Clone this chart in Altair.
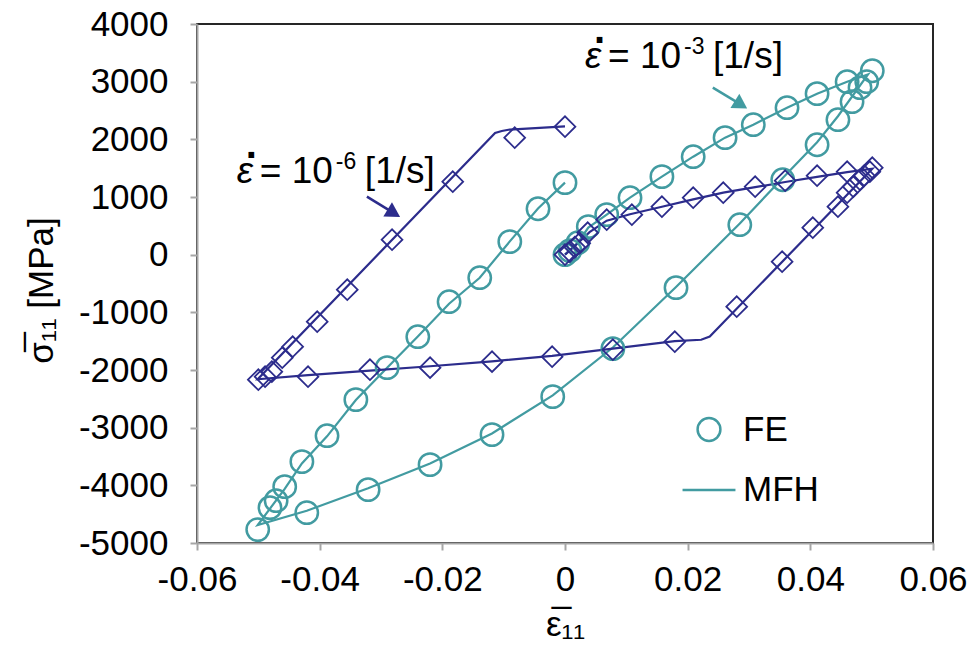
import altair as alt
import pandas as pd

TEAL = "#429BA1"
BLUE = "#2C2C8C"

# ---- strain rate 10^-3 [1/s] : FE (circles) ----
fe3_strain = [0, 0.0008, 0.0021, 0.0038, 0.0068, 0.0106, 0.0158, 0.0209, 0.0261, 0.0307, 0.0362, 0.0411, 0.046, 0.0501,
              0.0492, 0.0481, 0.0468, 0.0445, 0.0411, 0.0355, 0.0285, 0.0181, 0.0078, -0.002, -0.0119, -0.022, -0.0321, -0.0421, -0.0501,
              -0.0481, -0.0471, -0.0457, -0.0429, -0.0388, -0.0341, -0.029, -0.024, -0.0189, -0.0139, -0.009, -0.0044, 0]
fe3_stress = [0, 70, 208, 486, 694, 988, 1353, 1699, 2029, 2254, 2549, 2792, 3000, 3190,
              3000, 2896, 2653, 2341, 1907, 1300, 520, -572, -1630, -2462, -3121, -3641, -4075, -4474, -4768,
              -4387, -4266, -4023, -3589, -3139, -2514, -1959, -1422, -815, -399, 226, 797, 1249]

# ---- strain rate 10^-3 [1/s] : MFH (line) ----
mfh3_strain = [0, 0.0021, 0.0038, 0.0068, 0.0106, 0.0158, 0.0209, 0.0261, 0.0307, 0.0362, 0.0411, 0.046, 0.0494,
               0.0445, 0.0411, 0.0355, 0.0285, 0.0181, 0.0078, -0.002, -0.0119, -0.022, -0.0321, -0.0421, -0.0501,
               -0.0457, -0.0429, -0.0388, -0.0341, -0.029, -0.024, -0.0189, -0.0139, -0.009, -0.0044, 0]
mfh3_stress = [0, 208, 470, 694, 988, 1353, 1699, 2029, 2254, 2549, 2792, 3000, 3125,
               2400, 1950, 1330, 540, -560, -1610, -2440, -3100, -3620, -4050, -4440, -4690,
               -4060, -3620, -3150, -2520, -1960, -1420, -850, -400, 230, 800, 1250]

# ---- strain rate 10^-6 [1/s] : FE (diamonds) ----
fe6_strain = [0, 0.0008, 0.0016, 0.0024, 0.0037, 0.0068, 0.0109, 0.0158, 0.0209, 0.0258, 0.031, 0.0359, 0.0411, 0.046, 0.0501,
              0.0497, 0.0488, 0.0481, 0.047, 0.046, 0.0445, 0.0404, 0.0354, 0.028,
              0.0179, 0.0078, -0.0021, -0.0119, -0.022, -0.0318, -0.0419, -0.05,
              -0.0489, -0.0478, -0.0461, -0.0444, -0.0404, -0.0355, -0.0282, -0.0183, -0.0082, 0]
fe6_stress = [0, 55, 130, 200, 380, 607, 694, 832, 988, 1075, 1179, 1283, 1370, 1439, 1509,
              1439, 1370, 1300, 1179, 1075, 832, 468, -121, -902,
              -1509, -1647, -1769, -1855, -1959, -1994, -2116, -2168,
              -2116, -2029, -1786, -1595, -1162, -607, 260, 1266, 2029, 2220]

# ---- strain rate 10^-6 [1/s] : MFH (line) ----
mfh6_strain = [0, 0.002, 0.004, 0.0068, 0.0106, 0.0158, 0.0209, 0.0258, 0.031, 0.0359, 0.0411, 0.046, 0.0501,
               0.0236, 0.0222, 0.0179, 0.0078, -0.0021, -0.0119, -0.022, -0.0318, -0.0419, -0.0501,
               -0.0114, -0.0103, -0.009, 0]
mfh6_stress = [0, 190, 390, 590, 700, 830, 960, 1075, 1170, 1260, 1350, 1430, 1490,
               -1420, -1475, -1500, -1630, -1755, -1850, -1935, -2010, -2090, -2160,
               2110, 2145, 2170, 2225]

# axis ticks
x_ticks = [-0.06, -0.04, -0.02, 0, 0.02, 0.04, 0.06]
y_ticks = [-5000, -4000, -3000, -2000, -1000, 0, 1000, 2000, 3000, 4000]

# legend entries
legend_kinds = ["FE", "MFH"]

# annotations (left edge of text, baseline)
ann_strain = [-0.0535, 0.00326]
ann_stress = [1248, 3243]
ann_exp = ["-6", "-3"]
# arrows: start and head
arrow6_strain = [-0.0323, -0.0279]
arrow6_stress = [1006, 720]
arrow3_strain = [0.0241, 0.0287]
arrow3_stress = [2896, 2601]


def path_df(xs, ys):
    return pd.DataFrame({"strain": xs, "stress": ys, "i": list(range(len(xs)))})


xenc = alt.X("strain:Q",
             scale=alt.Scale(domain=[-0.06, 0.06], nice=False, zero=False),
             axis=alt.Axis(values=x_ticks, labelExpr="toString(datum.value)", labelFlush=False,
                           title="ε̅₁₁", titleY=92, titleX=368, titleBaseline="alphabetic",
                           labelPadding=12))
yenc = alt.Y("stress:Q",
             scale=alt.Scale(domain=[-5000, 4000], nice=False, zero=False),
             axis=alt.Axis(values=y_ticks, labelExpr="toString(datum.value)", labelFlush=False,
                           title="σ̅₁₁ [MPa]", titleX=-138, titleY=266,
                           labelPadding=22))

line3 = alt.Chart(path_df(mfh3_strain, mfh3_stress)).mark_line(color=TEAL, strokeWidth=2.2).encode(
    x=xenc, y=yenc, order="i:Q")
line6 = alt.Chart(path_df(mfh6_strain, mfh6_stress)).mark_line(color=BLUE, strokeWidth=2.2).encode(
    x="strain:Q", y="stress:Q", order="i:Q")
pts3 = alt.Chart(path_df(fe3_strain, fe3_stress)).mark_point(
    shape="circle", filled=False, color=TEAL, size=500, strokeWidth=2.5, opacity=1).encode(
    x="strain:Q", y="stress:Q")
pts6 = alt.Chart(path_df(fe6_strain, fe6_stress)).mark_point(
    shape="diamond", filled=False, color=BLUE, size=430, strokeWidth=1.8, opacity=1).encode(
    x="strain:Q", y="stress:Q")

leg = alt.Legend(title=None, orient="none", legendX=484, legendY=388,
                 labelFont="Liberation Sans", labelFontSize=35, labelColor="black",
                 symbolStrokeColor=TEAL, symbolStrokeWidth=2.5, symbolFillColor="transparent",
                 symbolOpacity=1, rowPadding=14, labelOffset=6)
legend_layer = alt.Chart(pd.DataFrame({"kind": legend_kinds,
                                       "strain": [None, None], "stress": [None, None]})).mark_point(
    filled=False, color=TEAL, strokeWidth=2.5).encode(
    x="strain:Q", y="stress:Q",
    shape=alt.Shape("kind:N", scale=alt.Scale(domain=legend_kinds, range=["circle", "stroke"]), legend=leg),
    size=alt.Size("kind:N", scale=alt.Scale(domain=legend_kinds, range=[520, 2800]), legend=leg))

ann = pd.DataFrame({"strain": ann_strain, "stress": ann_stress, "exp": ann_exp})
base_t = dict(font="Liberation Sans", align="left", baseline="alphabetic", color="black")
eps_t = alt.Chart(ann).mark_text(text="ε", fontSize=37, fontStyle="italic", **base_t).encode(
    x="strain:Q", y="stress:Q")
dot_t = alt.Chart(ann).mark_text(text=".", fontSize=40, fontWeight="bold", dx=9, dy=-25, **base_t).encode(
    x="strain:Q", y="stress:Q")
eq_t = alt.Chart(ann).mark_text(text="= 10", fontSize=37, dx=23, **base_t).encode(
    x="strain:Q", y="stress:Q")
exp_t = alt.Chart(ann).mark_text(fontSize=23, dx=99, dy=-14, **base_t).encode(
    x="strain:Q", y="stress:Q", text="exp:N")
unit_t = alt.Chart(ann).mark_text(text="[1/s]", fontSize=37, dx=128, **base_t).encode(
    x="strain:Q", y="stress:Q")

a6 = path_df(arrow6_strain, arrow6_stress)
a3 = path_df(arrow3_strain, arrow3_stress)
shaft6 = alt.Chart(a6).mark_line(color=BLUE, strokeWidth=2.5).encode(x="strain:Q", y="stress:Q", order="i:Q")
shaft3 = alt.Chart(a3).mark_line(color=TEAL, strokeWidth=2.5).encode(x="strain:Q", y="stress:Q", order="i:Q")
head6 = alt.Chart(a6[a6.i == 1]).mark_point(shape="triangle-right", filled=True, color=BLUE, size=280,
                                            angle=31, opacity=1).encode(x="strain:Q", y="stress:Q")
head3 = alt.Chart(a3[a3.i == 1]).mark_point(shape="triangle-right", filled=True, color=TEAL, size=280,
                                            angle=32, opacity=1).encode(x="strain:Q", y="stress:Q")

chart = alt.layer(line3, line6, pts3, pts6, legend_layer, shaft6, shaft3, head6, head3,
                  eps_t, dot_t, eq_t, exp_t, unit_t).properties(
    width=736, height=519,
    autosize=alt.AutoSizeParams(type="none"),
    padding={"left": 189, "top": 16, "right": 35, "bottom": 105},
).configure_view(stroke="#262626", strokeWidth=2).configure_axis(
    grid=False, domainColor="#A6A6A6", domainWidth=2, tickColor="#A6A6A6", tickWidth=2, tickSize=7,
    labelFont="Liberation Sans", labelFontSize=35, labelColor="black",
    titleFont="Liberation Sans", titleFontSize=35, titleFontWeight="normal", titleColor="black")

chart.save("out.html", embed_options={"renderer": "svg", "actions": False})
